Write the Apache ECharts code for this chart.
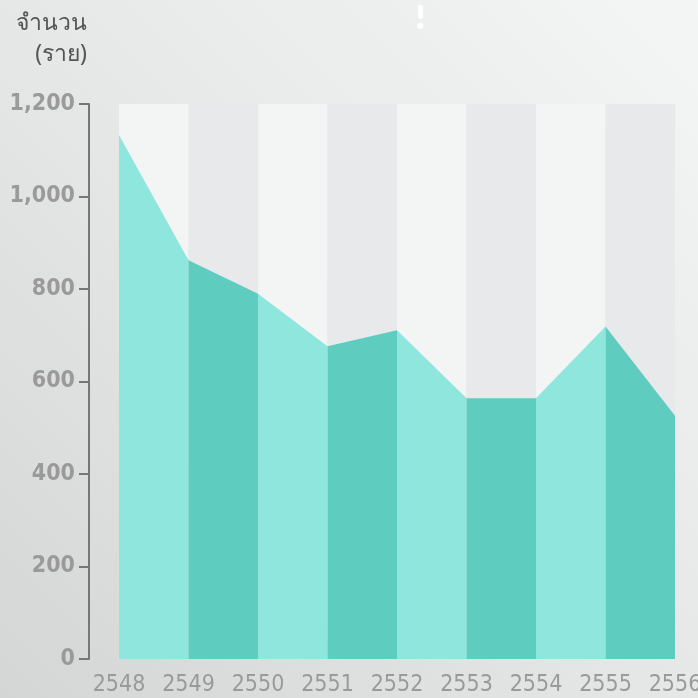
<!DOCTYPE html>
<html><head><meta charset="utf-8">
<script src="https://cdn.jsdelivr.net/npm/echarts@6/dist/echarts.min.js"></script>
<style>html,body{margin:0;padding:0;}#c{width:698px;height:698px;}</style>
</head><body><div id="c"></div>
<script>
const years = ['2548','2549','2550','2551','2552','2553','2554','2555','2556'];
const counts = [1133, 862, 790, 676, 711, 564, 564, 719, 526];
const yTicks = [0, 200, 400, 600, 800, 1000, 1200];
const axisName = 'จำนวน\n(ราย)';
const segColors = ['#8fe6dd', '#5ecdbf'];

const series = [];
for (let i = 0; i < counts.length - 1; i++) {
  const d = counts.map((v, j) => (j === i || j === i + 1) ? v : null);
  series.push({
    type: 'line', data: d, symbol: 'none', silent: true,
    lineStyle: { width: 0 },
    areaStyle: { color: segColors[i % 2], opacity: 1 },
    z: 2
  });
}

const chart = echarts.init(document.getElementById('c'));
chart.setOption({
  animation: false,
  backgroundColor: {
    type: 'linear', x: 0, y: 1, x2: 1, y2: 0,
    colorStops: [{ offset: 0, color: '#d4d5d5' }, { offset: 0.5, color: '#e6e7e7' }, { offset: 1, color: '#f4f5f5' }]
  },
  grid: { left: 119, right: 23, top: 104, bottom: 39, outerBoundsMode: 'none', containLabel: false },
  xAxis: {
    type: 'category', data: years, boundaryGap: false,
    axisLine: { show: false }, axisTick: { show: false, interval: 0 },
    axisLabel: { color: '#9a9a9a', fontFamily: 'DejaVu Sans Condensed', fontSize: 23, margin: 15, interval: 0, hideOverlap: false },
    splitLine: { show: false },
    splitArea: { show: true, interval: 0, areaStyle: { color: ['#f3f4f4', '#e8e9ea'] } }
  },
  yAxis: {
    type: 'value', min: yTicks[0], max: yTicks[yTicks.length - 1], interval: 200,
    offset: 30,
    name: axisName, nameLocation: 'end', nameGap: 34,
    nameTextStyle: { color: '#555555', fontFamily: 'Noto Sans', fontSize: 23, lineHeight: 31, align: 'right', verticalAlign: 'bottom', padding: [0, 2, 0, 0] },
    axisLine: { show: true, lineStyle: { color: '#777777', width: 2 } },
    axisTick: { show: true, length: 10, lineStyle: { color: '#777777', width: 2 } },
    axisLabel: { color: '#9a9a9a', fontFamily: 'DejaVu Sans Condensed', fontWeight: 'bold', fontSize: 23, margin: 14,
      formatter: v => v.toLocaleString('en-US') },
    splitLine: { show: false }
  },
  graphic: [
    { type: 'rect', left: 418, top: 5, shape: { width: 5, height: 14, r: 2.5 }, style: { fill: '#ffffff' } },
    { type: 'circle', left: 417.5, top: 23, shape: { r: 3 }, style: { fill: '#ffffff' } }
  ],
  series: series
});
</script></body></html>
